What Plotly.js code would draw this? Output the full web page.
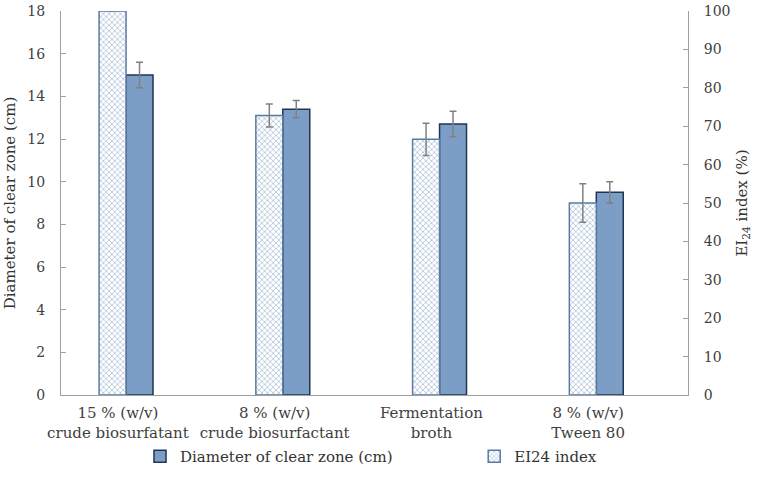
<!DOCTYPE html>
<html>
<head>
<meta charset="utf-8">
<script src="https://cdn.plot.ly/plotly-3.0.1.min.js"></script>
<style>html,body{margin:0;padding:0;background:#fff}#chart{width:760px;height:484px}</style>
</head>
<body>
<div id="chart"></div>
<script>
const categories = ["15 % (w/v)<br>crude biosurfatant", "8 % (w/v)<br>crude biosurfactant", "Fermentation<br>broth", "8 % (w/v)<br>Tween 80"];
const diameter = [15.0, 13.4, 12.7, 9.5];
const diameterErr = [0.6, 0.4, 0.6, 0.5];
const ei24 = [100, 72.8, 66.6, 50.0];
const ei24Err = [0, 3.0, 4.2, 5.0];

const font = "DejaVu Serif";
const fs = 14;

const traces = [
  {
    type: "bar", name: "EI24 index", x: categories, y: ei24, yaxis: "y2", legend: "legend2",
    width: 0.172, offset: -0.12,
    marker: {color: "#ffffff", line: {color: "#5a7aa3", width: 1.5},
      pattern: {shape: "x", fgcolor: "#aabfd6", bgcolor: "#ffffff", size: 4, solidity: 0.35}},
    error_y: {type: "data", array: ei24Err, visible: true, color: "#808080", thickness: 1.5, width: 3.5}
  },
  {
    type: "bar", name: "Diameter of clear zone (cm)", x: categories, y: diameter, yaxis: "y", legend: "legend",
    width: 0.172, offset: 0.052,
    marker: {color: "#7c9ec6", line: {color: "#1f3554", width: 1.5}},
    error_y: {type: "data", array: diameterErr, visible: true, color: "#808080", thickness: 1.5, width: 3.5}
  }
];

const legendBase = {orientation: "h", xanchor: "left", y: -0.16, yanchor: "middle",
  font: {family: font, size: 15, color: "#333333"}, itemwidth: 30, bgcolor: "rgba(0,0,0,0)"};

const layout = {
  width: 760, height: 484,
  margin: {l: 61, r: 72, t: 11, b: 89},
  paper_bgcolor: "#ffffff", plot_bgcolor: "#ffffff",
  font: {family: font, size: fs, color: "#404040"},
  barmode: "overlay",
  showlegend: true,
  legend: Object.assign({}, legendBase, {x: 0.126}),
  legend2: Object.assign({}, legendBase, {x: 0.659}),
  xaxis: {type: "category", range: [-0.363, 3.637], showline: true, linecolor: "#a0a0a0", linewidth: 1, ticks: "",
    tickangle: 0, tickfont: {family: font, size: 15}, ticklabelstandoff: 4, showgrid: false, zeroline: false},
  yaxis: {range: [0, 18], dtick: 2, showline: true, linecolor: "#a0a0a0", linewidth: 1,
    ticks: "inside", ticklen: 5, tickcolor: "#a0a0a0", showgrid: false, zeroline: false,
    tickfont: {family: font, size: fs}, ticklabelstandoff: 12,
    title: {text: "Diameter of clear zone (cm)", font: {family: font, size: 15, color: "#333333"}, standoff: 8}},
  yaxis2: {range: [0, 100], dtick: 10, overlaying: "y", side: "right", showline: true,
    linecolor: "#a0a0a0", linewidth: 1, ticks: "inside", ticklen: 5, tickcolor: "#a0a0a0",
    showgrid: false, zeroline: false, tickfont: {family: font, size: fs}, ticklabelstandoff: 12,
    title: {text: "EI<sub>24</sub> index (%)", font: {family: font, size: 15, color: "#333333"}, standoff: 6}}
};

Plotly.newPlot("chart", traces, layout, {displayModeBar: false, staticPlot: true});
</script>
</body>
</html>
